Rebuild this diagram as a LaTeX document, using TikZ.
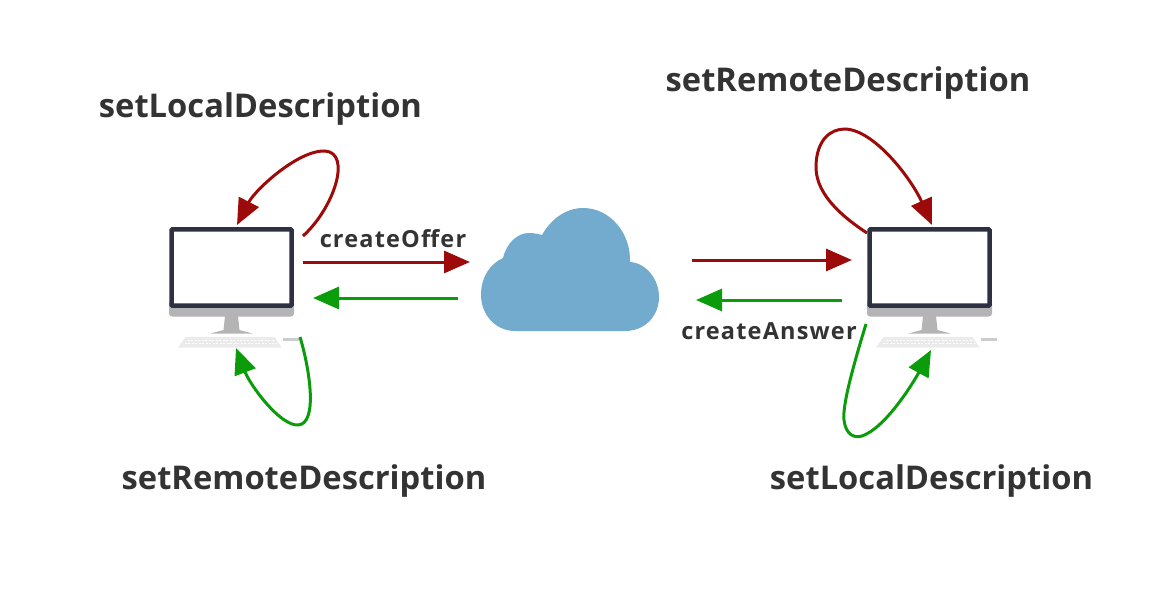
\documentclass[tikz,border=0pt]{standalone}
\usepackage{fontspec}
\setmainfont{Open Sans}
\usetikzlibrary{arrows.meta}
\definecolor{darkred}{HTML}{9C0A0A}
\definecolor{darkgreen}{HTML}{0A9C0A}
\definecolor{cloudblue}{HTML}{72ABCD}
\definecolor{frame}{HTML}{2E3142}
\definecolor{chin}{HTML}{B4B4B4}
\definecolor{labelgray}{HTML}{333333}
\tikzset{
	bigtext/.style={text=labelgray,font=\fontsize{32.7}{38}\selectfont\bfseries},
	smalltext/.style={text=labelgray,font=\fontsize{23.5}{28}\selectfont\bfseries\addfontfeature{LetterSpace=5}},
	redline/.style={draw=darkred,line width=3pt,-{Triangle[length=26pt,width=22pt]}},
	greenline/.style={draw=darkgreen,line width=3pt,-{Triangle[length=26pt,width=22pt]}},
	screenbox/.style={draw=frame,fill=white,line width=4.5pt,minimum width=120pt,minimum height=76pt,inner sep=0pt,rounded corners=.8pt},
}
% one desktop: name, x of the centre
\newcommand{\desktop}[2]{
	\fill[chin,rounded corners=3pt] (#2-62.5,300) rectangle (#2+62.5,316.5);
	\fill[chin] (#2-6.5,316) -- (#2+6.5,316) -- (#2+8,330) -- (#2+21,333.5) -- (#2-21,333.5) -- (#2-8,330) -- cycle;
	\node[screenbox] (#1) at (#2,267.5) {};
	\fill[black!8] (#2-46,337) -- (#2+43,337) -- (#2+50,347.5) -- (#2-53.5,347.5) -- cycle;
	\draw[white,line width=.9pt,dash pattern=on 2pt off 1.5pt] (#2-44,340) -- (#2+42,340);
	\draw[white,line width=.9pt,dash pattern=on 2pt off 1.5pt] (#2-47,343.5) -- (#2+45,343.5);
	\fill[black!20] (#2+51,338) rectangle (#2+67,340.5);
}
\begin{document}
\begin{tikzpicture}[x=1pt,y=-1pt]
	\useasboundingbox (0,0) rectangle (1170,596);
	\desktop{pcL}{231.5}
	\desktop{pcR}{929.5}
	% cloud
	\fill[cloudblue] (515,331) .. controls (495,331) and (481,314) .. (481,295)
		.. controls (481,277) and (490,264) .. (503,258)
		.. controls (507,242) and (518,233) .. (529,233)
		.. controls (534,233) and (538,234) .. (542,235)
		.. controls (551,219) and (566,208) .. (583,208)
		.. controls (610,208) and (631,233) .. (630,262)
		.. controls (646,263) and (659,279) .. (659,297)
		.. controls (659,316) and (645,331) .. (625,331) -- cycle;
	% ends of the connectors
	\coordinate (offerA) at (303,262);
	\coordinate (offerB) at (470,262);
	\coordinate (backA) at (458,298);
	\coordinate (backB) at (313,298);
	\coordinate (sendA) at (692,260);
	\coordinate (sendB) at (852,260);
	\coordinate (answerA) at (842,300);
	\coordinate (answerB) at (696,300);
	\coordinate (loopLa) at (303,236);
	\coordinate (loopLb) at (237,225);
	\coordinate (loopRa) at (867,233);
	\coordinate (loopRb) at (932,225);
	\coordinate (downLa) at (300,337);
	\coordinate (downLb) at (236,348);
	\coordinate (downRa) at (866,324);
	\coordinate (downRb) at (931,350);
	\draw[redline] (offerA) -- (offerB);
	\draw[greenline] (backA) -- (backB);
	\draw[redline] (sendA) -- (sendB);
	\draw[greenline] (answerA) -- (answerB);
	\draw[redline] (loopLa) .. controls (334,208) and (352,153) .. (325,151) .. controls (298,150) and (255,190) .. (loopLb);
	\draw[greenline] (downLa) .. controls (310,370) and (318,424) .. (298,425) .. controls (280,426) and (250,385) .. (downLb);
	\draw[redline] (loopRa) .. controls (835,212) and (815,190) .. (816,165) .. controls (817,140) and (830,129) .. (845,129) .. controls (875,130) and (912,180) .. (loopRb);
	\draw[greenline] (downRa) .. controls (855,360) and (842,405) .. (844,420) .. controls (846,436) and (855,438) .. (862,436) .. controls (885,428) and (912,385) .. (downRb);
	% labels
	\node[bigtext] (localL) at (260.5,109) {setLocalDescription};
	\node[bigtext] (remoteR) at (848,83) {setRemoteDescription};
	\node[bigtext] (remoteL) at (304,481) {setRemoteDescription};
	\node[bigtext] (localR) at (931.5,481) {setLocalDescription};
	\node[smalltext] (offer) at (393,238.5) {createOffer};
	\node[smalltext] (answer) at (769,331) {createAnswer};
\end{tikzpicture}
\end{document}
